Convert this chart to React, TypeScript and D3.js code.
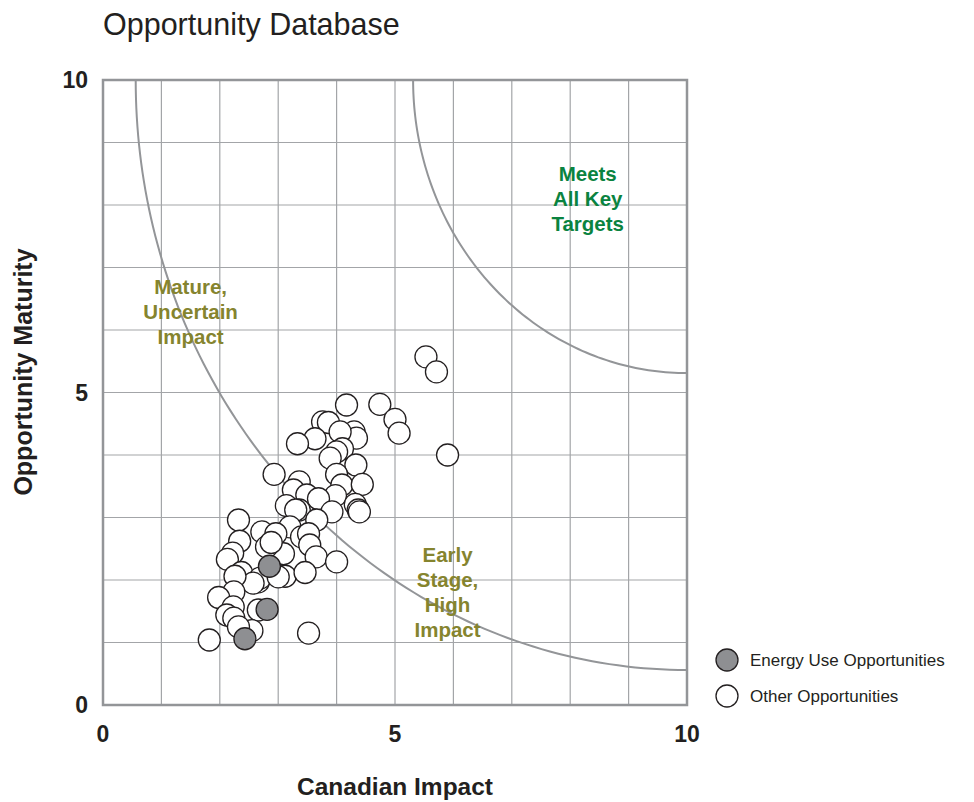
import React from "react";
import * as d3 from "d3";

const TITLE = "Opportunity Database";
const X_LABEL = "Canadian Impact";
const Y_LABEL = "Opportunity Maturity";
const X_TICKS = [0, 5, 10];
const Y_TICKS = [0, 5, 10];
const GRID = [0, 1, 2, 3, 4, 5, 6, 7, 8, 9, 10];

// Quarter-circle threshold curves centred on (10,10), radii in data units
const CURVE_RADII = [9.44, 4.69];

const otherX = [
  4.17, 4.74, 5.0, 5.07, 5.9, 5.53, 5.71,
  3.76, 3.86, 4.3, 4.34, 4.06, 3.63, 3.33,
  4.1, 4.0, 3.89, 4.33, 4.0, 4.09, 4.44, 3.98,
  4.32, 4.37, 4.39,
  2.93, 3.36, 3.26, 3.49, 3.69, 3.14, 3.36, 3.92, 3.3,
  3.66, 3.2, 3.4, 2.32, 2.72, 2.96, 3.52, 2.34, 3.09, 3.54, 3.65, 4.0,
  2.22, 2.13, 2.8, 2.88, 2.37, 2.66, 2.69, 2.57, 3.12, 3.0, 3.46, 2.26,
  2.24, 1.98, 2.66, 2.23, 2.12, 2.24, 2.55, 2.32, 1.82, 3.52,
];
const otherY = [
  4.8, 4.81, 4.57, 4.35, 4.0, 5.57, 5.33,
  4.53, 4.52, 4.37, 4.27, 4.37, 4.26, 4.18,
  4.1, 4.05, 3.95, 3.84, 3.69, 3.52, 3.53, 3.35,
  3.21, 3.12, 3.09,
  3.69, 3.57, 3.44, 3.36, 3.3, 3.19, 3.12, 3.09, 3.12,
  2.96, 2.85, 2.69, 2.96, 2.77, 2.74, 2.74, 2.62, 2.42, 2.56, 2.37, 2.29,
  2.43, 2.33, 2.53, 2.6, 2.12, 1.97, 2.03, 1.95, 2.06, 2.05, 2.12, 2.06,
  1.81, 1.72, 1.52, 1.57, 1.44, 1.39, 1.19, 1.25, 1.04, 1.15,
];
const energyX = [2.85, 2.81, 2.43];
const energyY = [2.22, 1.53, 1.06];

const LEGEND = ["Energy Use Opportunities", "Other Opportunities"];

const FONT = "'Liberation Sans', Arial, Helvetica, sans-serif";
const OLIVE = "#85842e";
const GREEN = "#0a8340";
const GRAY_LINE = "#a3a5a8";
const FRAME = "#939598";
const INK = "#231f20";
const ENERGY_FILL = "#8e8f92";

export default function App() {
  const W = 974;
  const H = 802;
  const x = d3.scaleLinear().domain([0, 10]).range([103, 687]);
  const y = d3.scaleLinear().domain([0, 10]).range([705, 80]);
  const R = 11;

  const line = d3
    .line<[number, number]>()
    .x((d) => x(d[0]))
    .y((d) => y(d[1]));

  const arcPath = (r: number) => {
    const pts: [number, number][] = d3
      .range(0, 101)
      .map((i) => {
        const t = (i / 100) * (Math.PI / 2);
        return [10 - r * Math.cos(t), 10 - r * Math.sin(t)] as [number, number];
      });
    return line(pts) || "";
  };

  const others = otherX.map((v, i) => ({ x: v, y: otherY[i] }));
  const energy = energyX.map((v, i) => ({ x: v, y: energyY[i] }));

  const label = (lines: string[], cx: number, cy: number, color: string) => (
    <text
      x={x(cx)}
      y={y(cy)}
      textAnchor="middle"
      fontFamily={FONT}
      fontWeight="bold"
      fontSize={20.5}
      fill={color}
    >
      {lines.map((l, i) => (
        <tspan key={i} x={x(cx)} dy={i === 0 ? 0 : 25}>
          {l}
        </tspan>
      ))}
    </text>
  );

  return (
    <svg width={W} height={H} style={{ position: "absolute", left: 0, top: 0 }}>
      <rect width={W} height={H} fill="#fff" />
      <defs>
        <clipPath id="plot">
          <rect x={x(0)} y={y(10)} width={x(10) - x(0)} height={y(0) - y(10)} />
        </clipPath>
      </defs>

      <text x={103} y={35} fontFamily={FONT} fontSize={30.5} fill={INK}>
        {TITLE}
      </text>

      {/* grid */}
      {GRID.map((g) => (
        <line key={"vx" + g} x1={x(g)} x2={x(g)} y1={y(0)} y2={y(10)} stroke={GRAY_LINE} strokeWidth={1.2} />
      ))}
      {GRID.map((g) => (
        <line key={"hy" + g} x1={x(0)} x2={x(10)} y1={y(g)} y2={y(g)} stroke={GRAY_LINE} strokeWidth={1.2} />
      ))}

      {/* frame */}
      <rect
        x={x(0)}
        y={y(10)}
        width={x(10) - x(0)}
        height={y(0) - y(10)}
        fill="none"
        stroke={FRAME}
        strokeWidth={2.5}
      />

      {/* curves */}
      <g clipPath="url(#plot)">
        {CURVE_RADII.map((r) => (
          <path key={r} d={arcPath(r)} fill="none" stroke={FRAME} strokeWidth={2} />
        ))}
      </g>

      {/* region labels */}
      {label(["Meets", "All Key", "Targets"], 8.3, 8.39, GREEN)}
      {label(["Mature,", "Uncertain", "Impact"], 1.5, 6.57, OLIVE)}
      {label(["Early", "Stage,", "High", "Impact"], 5.9, 2.29, OLIVE)}

      {/* points */}
      {others.map((d, i) => (
        <circle key={"o" + i} cx={x(d.x)} cy={y(d.y)} r={R} fill="#fff" stroke={INK} strokeWidth={1.3} />
      ))}
      {energy.map((d, i) => (
        <circle key={"e" + i} cx={x(d.x)} cy={y(d.y)} r={R} fill={ENERGY_FILL} stroke={INK} strokeWidth={1.3} />
      ))}

      {/* tick labels */}
      {Y_TICKS.map((t) => (
        <text
          key={"yt" + t}
          x={88}
          y={y(t)}
          dy="0.35em"
          textAnchor="end"
          fontFamily={FONT}
          fontWeight="bold"
          fontSize={23}
          fill={INK}
        >
          {t}
        </text>
      ))}
      {X_TICKS.map((t) => (
        <text
          key={"xt" + t}
          x={x(t)}
          y={742}
          textAnchor="middle"
          fontFamily={FONT}
          fontWeight="bold"
          fontSize={23}
          fill={INK}
        >
          {t}
        </text>
      ))}

      {/* axis titles */}
      <text x={395} y={795} textAnchor="middle" fontFamily={FONT} fontWeight="bold" fontSize={24.5} fill={INK}>
        {X_LABEL}
      </text>
      <text
        transform={`translate(32, 372) rotate(-90)`}
        textAnchor="middle"
        fontFamily={FONT}
        fontWeight="bold"
        fontSize={25}
        fill={INK}
      >
        {Y_LABEL}
      </text>

      {/* legend */}
      <circle cx={727} cy={660} r={R} fill={ENERGY_FILL} stroke={INK} strokeWidth={1.3} />
      <text x={750} y={666} fontFamily={FONT} fontSize={17} fill={INK}>
        {LEGEND[0]}
      </text>
      <circle cx={727} cy={696} r={R} fill="#fff" stroke={INK} strokeWidth={1.3} />
      <text x={750} y={702} fontFamily={FONT} fontSize={17} fill={INK}>
        {LEGEND[1]}
      </text>
    </svg>
  );
}
